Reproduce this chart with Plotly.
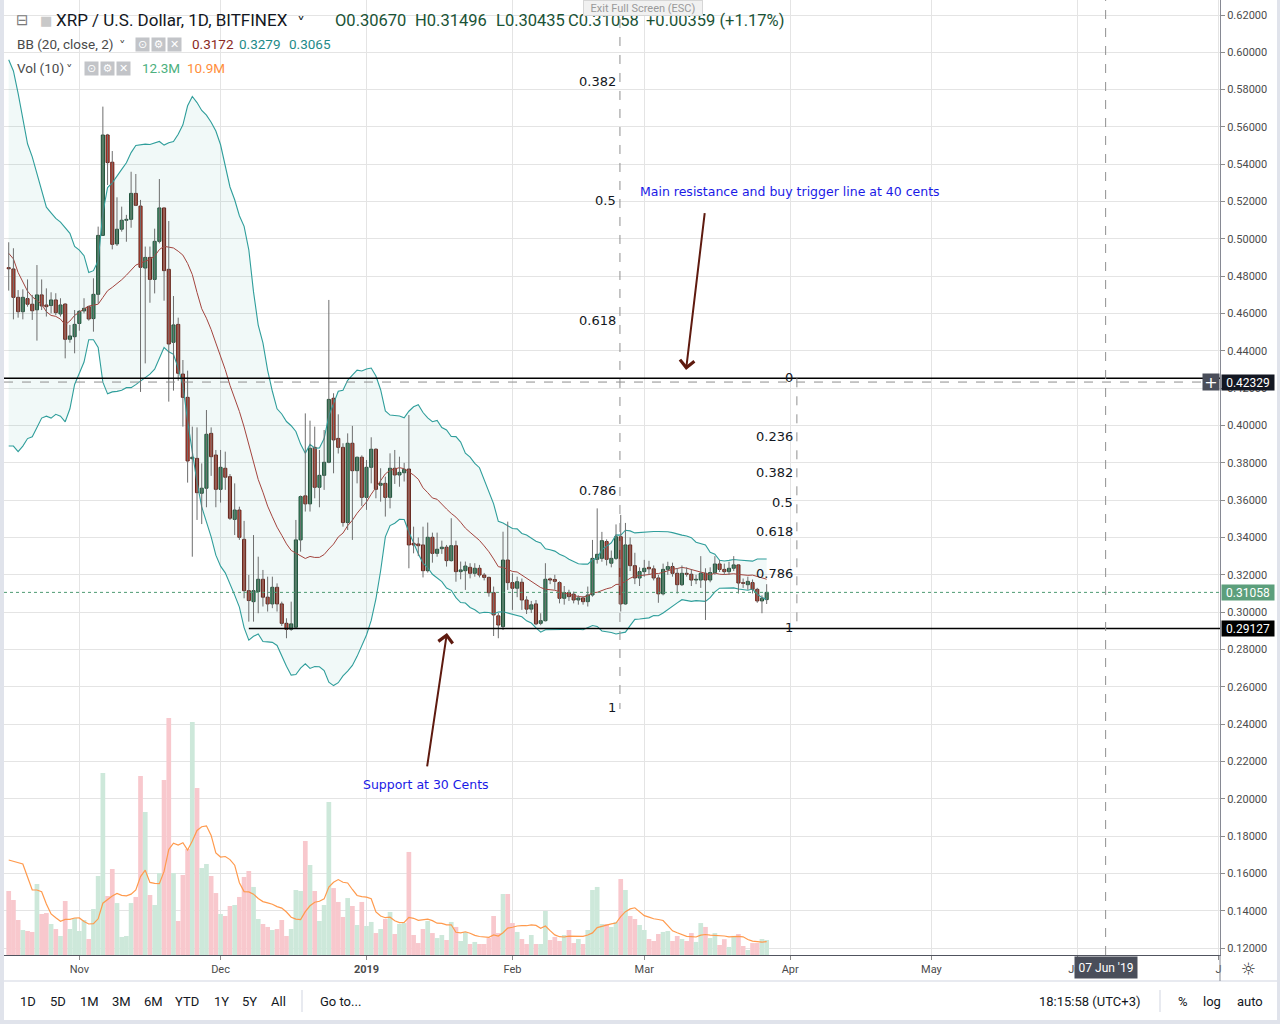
import numpy as np
import pandas as pd
import plotly.graph_objects as go

# ---------------- data ----------------
start_date = "2018-10-17"

opens = [
    0.4846, 0.4839, 0.4687, 0.4610, 0.4680, 0.4650, 0.4620, 0.4700, 0.4646, 0.4643,
    0.4673, 0.4598, 0.4651, 0.4462, 0.4476, 0.4547, 0.4614, 0.4637, 0.4573, 0.4703,
    0.5019, 0.5557, 0.5411, 0.4973, 0.5052, 0.5100, 0.5105, 0.5244, 0.5176, 0.4844,
    0.4901, 0.4783, 0.4987, 0.5166, 0.4837, 0.4446, 0.4542, 0.4276, 0.4151, 0.3822,
    0.3824, 0.3637, 0.3664, 0.3958, 0.3842, 0.3658, 0.3771, 0.3726, 0.3497, 0.3547,
    0.3390, 0.3115, 0.3056, 0.3110, 0.3176, 0.3080, 0.3044, 0.3133, 0.3044, 0.2940,
    0.2908, 0.2919, 0.3387, 0.3623, 0.3580, 0.3883, 0.3669, 0.3733, 0.3803, 0.4146,
    0.3931, 0.3883, 0.3480, 0.3905, 0.3758, 0.3830, 0.3615, 0.3776, 0.3873, 0.3680,
    0.3690, 0.3615, 0.3771, 0.3735, 0.3747, 0.3767, 0.3369, 0.3365, 0.3360, 0.3222,
    0.3401, 0.3315, 0.3340, 0.3348, 0.3276, 0.3356, 0.3217, 0.3222, 0.3240, 0.3208,
    0.3235, 0.3199, 0.3186, 0.3104, 0.2980, 0.2922, 0.3279, 0.3158, 0.3128, 0.3160,
    0.3065, 0.3016, 0.3044, 0.2940, 0.2954, 0.3178, 0.3175, 0.3158, 0.3074, 0.3105,
    0.3096, 0.3065, 0.3076, 0.3056, 0.3092, 0.3283, 0.3288, 0.3378, 0.3262, 0.3288,
    0.3404, 0.3044, 0.3360, 0.3249, 0.3183, 0.3217, 0.3240, 0.3232, 0.3183, 0.3098,
    0.3229, 0.3244, 0.3208, 0.3147, 0.3208, 0.3203, 0.3172, 0.3172, 0.3208, 0.3172,
    0.3212, 0.3258, 0.3229, 0.3217, 0.3235, 0.3253, 0.3158, 0.3147, 0.3158, 0.3122,
    0.3060, 0.3067,
]

highs = [
    0.4982, 0.4950, 0.4726, 0.4730, 0.4783, 0.4700, 0.4860, 0.4783, 0.4735, 0.4714,
    0.4709, 0.4682, 0.4655, 0.4539, 0.4619, 0.4619, 0.4682, 0.4641, 0.4789, 0.5066,
    0.5709, 0.5563, 0.5471, 0.5223, 0.5173, 0.5129, 0.5360, 0.5348, 0.5209, 0.4959,
    0.4959, 0.5055, 0.5321, 0.5166, 0.5096, 0.4694, 0.4578, 0.4351, 0.4294, 0.3994,
    0.3990, 0.3797, 0.4083, 0.3990, 0.3869, 0.3869, 0.3860, 0.3740, 0.3690, 0.3565,
    0.3489, 0.3199, 0.3413, 0.3297, 0.3226, 0.3190, 0.3190, 0.3154, 0.3056, 0.2967,
    0.3056, 0.3494, 0.3625, 0.4065, 0.4026, 0.3994, 0.3869, 0.3976, 0.4673, 0.4173,
    0.4060, 0.3905, 0.3958, 0.3998, 0.3833, 0.3840, 0.3815, 0.3937, 0.3878, 0.3771,
    0.3726, 0.3851, 0.3869, 0.3833, 0.3800, 0.4056, 0.3458, 0.3400, 0.3458, 0.3480,
    0.3426, 0.3426, 0.3383, 0.3360, 0.3503, 0.3383, 0.3271, 0.3271, 0.3262, 0.3262,
    0.3253, 0.3210, 0.3190, 0.3137, 0.2995, 0.3431, 0.3485, 0.3208, 0.3190, 0.3180,
    0.3085, 0.3060, 0.3065, 0.2994, 0.3262, 0.3185, 0.3200, 0.3165, 0.3140, 0.3120,
    0.3110, 0.3090, 0.3085, 0.3137, 0.3387, 0.3556, 0.3430, 0.3390, 0.3330, 0.3470,
    0.3521, 0.3478, 0.3400, 0.3318, 0.3240, 0.3280, 0.3275, 0.3250, 0.3200, 0.3260,
    0.3270, 0.3265, 0.3235, 0.3250, 0.3240, 0.3230, 0.3200, 0.3300, 0.3235, 0.3240,
    0.3300, 0.3280, 0.3260, 0.3270, 0.3300, 0.3255, 0.3180, 0.3190, 0.3175, 0.3130,
    0.3090, 0.31496,
]

lows = [
    0.4723, 0.4569, 0.4578, 0.4569, 0.4637, 0.4566, 0.4455, 0.4619, 0.4584, 0.4601,
    0.4592, 0.4584, 0.4360, 0.4444, 0.4387, 0.4508, 0.4601, 0.4562, 0.4503, 0.4655,
    0.5019, 0.5289, 0.4944, 0.4962, 0.5039, 0.4985, 0.5060, 0.5176, 0.4180, 0.4333,
    0.4658, 0.4708, 0.4976, 0.4669, 0.4128, 0.4187, 0.4240, 0.3994, 0.3694, 0.3297,
    0.3494, 0.3472, 0.3562, 0.3730, 0.3562, 0.3587, 0.3655, 0.3494, 0.3413, 0.3387,
    0.3074, 0.2949, 0.2949, 0.2994, 0.3030, 0.3003, 0.3021, 0.3003, 0.2926, 0.2860,
    0.2900, 0.2913, 0.3324, 0.3539, 0.3539, 0.3610, 0.3562, 0.3655, 0.3798, 0.3744,
    0.3850, 0.3458, 0.3440, 0.3387, 0.3690, 0.3569, 0.3548, 0.3690, 0.3610, 0.3592,
    0.3512, 0.3556, 0.3687, 0.3672, 0.3700, 0.3235, 0.3315, 0.3300, 0.3186, 0.3212,
    0.3265, 0.3297, 0.3312, 0.3244, 0.3271, 0.3163, 0.3176, 0.3119, 0.3181, 0.3190,
    0.3186, 0.3170, 0.3083, 0.2872, 0.2860, 0.2904, 0.3119, 0.3012, 0.3080, 0.3012,
    0.2990, 0.2995, 0.2930, 0.2930, 0.2950, 0.3150, 0.3120, 0.3047, 0.3040, 0.3060,
    0.3047, 0.3040, 0.3040, 0.3030, 0.3083, 0.3260, 0.3270, 0.3250, 0.3240, 0.3280,
    0.3003, 0.3040, 0.3220, 0.3150, 0.3140, 0.3190, 0.3200, 0.3170, 0.3050, 0.3090,
    0.3200, 0.3190, 0.3100, 0.3140, 0.3190, 0.3140, 0.3150, 0.3130, 0.2958, 0.3160,
    0.3200, 0.3215, 0.3200, 0.3200, 0.3220, 0.3100, 0.3130, 0.3120, 0.3100, 0.3050,
    0.2994, 0.30435,
]

closes = [
    0.4840, 0.4687, 0.4610, 0.4687, 0.4650, 0.4615, 0.4700, 0.4641, 0.4637, 0.4673,
    0.4605, 0.4646, 0.4462, 0.4480, 0.4542, 0.4612, 0.4628, 0.4571, 0.4703, 0.5019,
    0.5557, 0.5409, 0.4971, 0.5052, 0.5100, 0.5105, 0.5244, 0.5180, 0.4848, 0.4901,
    0.4783, 0.4987, 0.5166, 0.4830, 0.4437, 0.4539, 0.4280, 0.4151, 0.3810, 0.3830,
    0.3640, 0.3664, 0.3953, 0.3833, 0.3658, 0.3776, 0.3723, 0.3503, 0.3547, 0.3401,
    0.3115, 0.3062, 0.3115, 0.3176, 0.3080, 0.3044, 0.3133, 0.3044, 0.2940, 0.2908,
    0.2937, 0.3387, 0.3619, 0.3580, 0.3878, 0.3669, 0.3733, 0.3803, 0.4140, 0.3923,
    0.3883, 0.3480, 0.3905, 0.3758, 0.3830, 0.3615, 0.3776, 0.3873, 0.3658, 0.3690,
    0.3615, 0.3771, 0.3735, 0.3749, 0.3765, 0.3360, 0.3360, 0.3356, 0.3222, 0.3401,
    0.3315, 0.3337, 0.3348, 0.3276, 0.3356, 0.3217, 0.3226, 0.3247, 0.3208, 0.3235,
    0.3199, 0.3186, 0.3104, 0.2985, 0.2931, 0.3279, 0.3158, 0.3128, 0.3163, 0.3065,
    0.3016, 0.3039, 0.2937, 0.2954, 0.3176, 0.3172, 0.3165, 0.3074, 0.3105, 0.3083,
    0.3065, 0.3076, 0.3056, 0.3092, 0.3288, 0.3310, 0.3383, 0.3283, 0.3288, 0.3404,
    0.3044, 0.3360, 0.3249, 0.3183, 0.3217, 0.3235, 0.3232, 0.3183, 0.3098, 0.3229,
    0.3244, 0.3208, 0.3147, 0.3208, 0.3203, 0.3172, 0.3176, 0.3208, 0.3172, 0.3212,
    0.3258, 0.3229, 0.3217, 0.3235, 0.3253, 0.3156, 0.3154, 0.3165, 0.3122, 0.3060,
    0.3074, 0.31058,
]

# volume in millions
volumes = [
    52.5, 45.1, 28.7, 20.5, 19.7, 18.9, 58.2, 33.6, 34.4, 25.4,
    21.3, 15.6, 44.3, 21.3, 30.3, 19.7, 28.7, 13.1, 37.7, 64.8,
    149.2, 48.4, 70.5, 42.6, 14.8, 15.6, 42.6, 47.6, 146.8, 117.3,
    49.2, 41.0, 67.2, 143.5, 194.3, 67.2, 27.9, 65.6, 86.9, 191.1,
    136.9, 71.3, 74.6, 64.8, 50.8, 33.6, 32.0, 40.2, 41.0, 47.6,
    64.0, 68.9, 55.8, 29.5, 25.4, 23.0, 20.5, 21.3, 28.7, 15.6,
    21.3, 53.3, 52.5, 93.5, 73.8, 52.5, 27.9, 41.0, 125.5, 54.9,
    43.5, 31.2, 46.7, 40.2, 24.6, 43.5, 23.8, 27.1, 18.0, 21.3,
    29.5, 35.3, 17.2, 25.4, 26.2, 84.5, 16.4, 9.8, 21.3, 27.9,
    18.0, 13.9, 16.4, 12.3, 27.1, 23.0, 11.5, 18.9, 9.0, 10.7,
    9.0, 9.0, 13.9, 32.0, 18.0, 50.0, 50.0, 26.2, 18.9, 13.1,
    9.0, 16.4, 9.0, 9.0, 36.1, 12.3, 14.8, 11.5, 16.4, 20.5,
    9.8, 13.1, 9.0, 20.5, 53.3, 55.8, 25.4, 25.4, 23.0, 27.1,
    62.3, 53.3, 32.0, 29.5, 24.6, 20.5, 13.1, 11.5, 17.2, 18.9,
    19.7, 11.5, 15.6, 13.1, 11.5, 18.0, 10.7, 26.2, 23.0, 13.9,
    18.0, 8.2, 13.0, 6.6, 15.7, 17.2, 7.4, 4.1, 9.8, 9.8,
    13.1, 12.3,
]

# indicator values visible before 20 / 10 bars of history exist
bb_basis_early = [0.4923, 0.4893, 0.4820, 0.4770, 0.4720, 0.4690, 0.4670, 0.4650, 0.4610, 0.4590,
                  0.4585, 0.4570, 0.4540, 0.4560, 0.4590, 0.4610, 0.4625, 0.4640, 0.4645]
bb_upper_early = [0.5960, 0.5900, 0.5780, 0.5650, 0.5510, 0.5440, 0.5350, 0.5260, 0.5170, 0.5140,
                  0.5110, 0.5090, 0.5060, 0.5030, 0.4960, 0.4940, 0.4910, 0.4820, 0.4830]
bb_lower_early = [0.3890, 0.3890, 0.3860, 0.3890, 0.3930, 0.3940, 0.3990, 0.4040, 0.4050, 0.4040,
                  0.4060, 0.4050, 0.4020, 0.4090, 0.4220, 0.4280, 0.4340, 0.4460, 0.4460]
vol_ma_early = [77.9, 76.8, 75.4, 74.6, 64.0, 53.3, 53.3, 51.9, 41.8]

bb_length, bb_mult, vol_ma_length = 20, 2, 10

# values printed in the legend of the reference
legend_change = "+0.00359 (+1.17%)"
legend_bb = ["0.3172", "0.3279", "0.3065"]
legend_vol = ["12.3M", "10.9M"]

fib_levels = [0, 0.236, 0.382, 0.5, 0.618, 0.786, 1]
fib1_date, fib1_top, fib1_bottom = "2019-02-23 20:00", 0.7915, 0.2481
fib2_date, fib2_top, fib2_bottom = "2019-04-02 10:00", 0.4253, 0.2913
resistance_price = 0.4253
support_price = 0.29127
support_start = "2018-12-07"
crosshair_price = 0.42329
crosshair_date = "2019-06-07"

month_ticks = ["2018-11-01", "2018-12-01", "2019-01-01", "2019-02-01", "2019-03-01",
               "2019-04-01", "2019-05-01", "2019-06-01", "2019-07-01"]
month_labels = ["Nov", "Dec", "<b>2019</b>", "Feb", "Mar", "Apr", "May", "Jun", "J"]

# ---------------- derived series ----------------
dates = pd.date_range(start_date, periods=len(closes), freq="D")
o = np.array(opens)
h = np.array(highs)
l = np.array(lows)
c = np.array(closes)
up = c >= o

cs = pd.Series(closes)
basis = cs.rolling(bb_length).mean()
sd = cs.rolling(bb_length).std(ddof=0)
upper = basis + bb_mult * sd
lower = basis - bb_mult * sd
n0 = len(bb_basis_early)
basis.iloc[:n0] = bb_basis_early
upper.iloc[:n0] = bb_upper_early
lower.iloc[:n0] = bb_lower_early

vs = pd.Series(volumes)
vol_ma = vs.rolling(vol_ma_length).mean()
vol_ma.iloc[:len(vol_ma_early)] = vol_ma_early

# ---------------- geometry helpers (layout only) ----------------
W, H = 1280, 1024
ML, MR, MT, MB = 4, 60, 0, 69
PW, PH = W - ML - MR, H - MT - MB


def px(x):
    return (x - ML) / PW


def py(y):
    return 1 - (y - MT) / PH


DAY = 86400000
GREEN_FILL, GREEN_LINE = "#3F8F62", "#1D4A33"
RED_FILL, RED_LINE = "#CF4634", "#641A11"
TEAL = "#2F9E9B"

fig = go.Figure()

# volume (base axis y, drawn first)
vol_colors = ["#CDE8DA" if u else "#F8C8CD" for u in up]
fig.add_trace(go.Bar(x=dates, y=volumes, marker=dict(color=vol_colors, line=dict(width=0)),
                     width=DAY, yaxis="y", xaxis="x", hoverinfo="skip"))
fig.add_trace(go.Scatter(x=dates, y=vol_ma, mode="lines", line=dict(color="#FF9A4D", width=1.2),
                         yaxis="y", hoverinfo="skip"))

# Bollinger bands
fig.add_trace(go.Scatter(x=dates, y=lower, mode="lines", line=dict(color=TEAL, width=1.1),
                         yaxis="y2", hoverinfo="skip"))
fig.add_trace(go.Scatter(x=dates, y=upper, mode="lines", line=dict(color=TEAL, width=1.1),
                         fill="tonexty", fillcolor="rgba(38,160,154,0.065)",
                         yaxis="y2", hoverinfo="skip"))
fig.add_trace(go.Scatter(x=dates, y=basis, mode="lines", line=dict(color="#A3443E", width=1),
                         yaxis="y2", hoverinfo="skip"))

# wicks
wx, wy = [], []
for d, hi, lo in zip(dates, h, l):
    wx += [d, d, None]
    wy += [lo, hi, None]
fig.add_trace(go.Scatter(x=wx, y=wy, mode="lines", line=dict(color="#6E6E6E", width=1),
                         yaxis="y2", hoverinfo="skip"))

# bodies
body = np.maximum(np.abs(c - o), 0.0003)
fig.add_trace(go.Bar(x=dates[up], base=o[up], y=body[up], width=0.66 * DAY,
                     marker=dict(color=GREEN_FILL, line=dict(color=GREEN_LINE, width=1)),
                     yaxis="y2", hoverinfo="skip"))
fig.add_trace(go.Bar(x=dates[~up], base=c[~up], y=body[~up], width=0.66 * DAY,
                     marker=dict(color=RED_FILL, line=dict(color=RED_LINE, width=1)),
                     yaxis="y2", hoverinfo="skip"))

# ---------------- shapes ----------------
shapes = []
x_end = "2019-07-01 07:00"
shapes.append(dict(type="line", xref="paper", x0=0, x1=1, yref="y2", y0=resistance_price,
                   y1=resistance_price, line=dict(color="#000000", width=1.5)))
shapes.append(dict(type="line", xref="x", x0=support_start, x1=x_end, yref="y2", y0=support_price,
                   y1=support_price, line=dict(color="#000000", width=1.5)))
shapes.append(dict(type="line", xref="paper", x0=0, x1=1, yref="y2", y0=crosshair_price,
                   y1=crosshair_price, line=dict(color="#8F8F8F", width=1, dash="dash")))
shapes.append(dict(type="line", xref="x", x0=crosshair_date, x1=crosshair_date, yref="paper",
                   y0=0, y1=1, line=dict(color="#8F8F8F", width=1, dash="dash")))
shapes.append(dict(type="line", xref="paper", x0=0, x1=1, yref="y2", y0=closes[-1], y1=closes[-1],
                   line=dict(color="#4E9A72", width=1, dash="dot")))
shapes.append(dict(type="line", xref="x", x0=fib1_date, x1=fib1_date, yref="y2", y0=fib1_top,
                   y1=fib1_bottom, line=dict(color="#8F8F8F", width=1, dash="dash")))
shapes.append(dict(type="line", xref="x", x0=fib2_date, x1=fib2_date, yref="y2", y0=fib2_top,
                   y1=fib2_bottom, line=dict(color="#8F8F8F", width=1, dash="dash")))

FRAME = "#E0E3EB"
shapes.append(dict(type="rect", xref="paper", yref="paper", x0=px(0), x1=px(4), y0=py(0), y1=py(1024),
                   fillcolor=FRAME, line=dict(width=0), layer="above"))
shapes.append(dict(type="rect", xref="paper", yref="paper", x0=px(1277), x1=px(1280), y0=py(0), y1=py(1024),
                   fillcolor=FRAME, line=dict(width=0), layer="above"))
shapes.append(dict(type="rect", xref="paper", yref="paper", x0=px(0), x1=px(1280), y0=py(1020), y1=py(1024),
                   fillcolor=FRAME, line=dict(width=0), layer="above"))
shapes.append(dict(type="line", xref="paper", yref="paper", x0=px(4), x1=px(1277), y0=py(981), y1=py(981),
                   line=dict(color=FRAME, width=1.5)))
shapes.append(dict(type="line", xref="paper", yref="paper", x0=px(1220), x1=px(1220), y0=py(955), y1=py(981),
                   line=dict(color="#868993", width=1)))
for sx in (302, 1160):
    shapes.append(dict(type="line", xref="paper", yref="paper", x0=px(sx), x1=px(sx), y0=py(990), y1=py(1012),
                       line=dict(color=FRAME, width=1.5)))

# ---------------- annotations ----------------
ann = []


def txt(text, x, y, size=12, color="#131722", family="Roboto", xanchor="left", **kw):
    d = dict(text=text, x=px(x), y=py(y), xref="paper", yref="paper", xanchor=xanchor, yanchor="middle",
             showarrow=False, font=dict(family=family, size=size, color=color))
    d.update(kw)
    return d


def fib_labels(date, top, bottom):
    ymin, ymax = 0.11625, 0.62804
    for lvl in fib_levels:
        price = top - lvl * (top - bottom)
        if ymin + 0.005 < price < ymax - 0.005:
            ann.append(dict(text=f"{lvl:g}", x=date, y=price, xref="x", yref="y2", xanchor="right",
                            yanchor="middle", xshift=-2, yshift=1, showarrow=False,
                            font=dict(family="DejaVu Sans", size=13, color="#131722")))


fib_labels(fib1_date, fib1_top, fib1_bottom)
fib_labels(fib2_date, fib2_top, fib2_bottom)

ann.append(dict(text="Main resistance and buy trigger line at 40 cents", x="2019-04-01", y=0.5253,
                xref="x", yref="y2", xanchor="center", yanchor="middle", showarrow=False,
                font=dict(family="DejaVu Sans", size=12.5, color="#1A1AE6")))
ann.append(dict(text="", x="2019-03-09 21:00", y=0.4298, ax="2019-03-13 21:00", ay=0.5146,
                xref="x", yref="y2", axref="x", ayref="y2", showarrow=True, arrowhead=4,
                arrowsize=1.4, arrowwidth=2, arrowcolor="#5E1A0F", standoff=0))
ann.append(dict(text="Support at 30 Cents", x="2019-01-13 15:00", y=0.2074,
                xref="x", yref="y2", xanchor="center", yanchor="middle", showarrow=False,
                font=dict(family="DejaVu Sans", size=12.5, color="#1A1AE6")))
ann.append(dict(text="", x="2019-01-18 02:00", y=0.2888, ax="2019-01-13 20:00", ay=0.2165,
                xref="x", yref="y2", axref="x", ayref="y2", showarrow=True, arrowhead=4,
                arrowsize=1.4, arrowwidth=2, arrowcolor="#5E1A0F", standoff=0))


def price_tag(price, text, bg):
    ann.append(dict(text=text, x=px(1221), y=price, xref="paper", yref="y2", xanchor="left",
                    yanchor="middle", showarrow=False, bgcolor=bg, width=52, height=15, borderpad=0,
                    font=dict(family="Roboto", size=12, color="#FFFFFF")))


price_tag(crosshair_price, f"{crosshair_price:.5f}", "#131722")
price_tag(closes[-1], f"{closes[-1]:.5f}", "#5C9F7C")
price_tag(support_price, f"{support_price:.5f}", "#000000")
ann.append(dict(text="+", x=px(1211), y=crosshair_price, xref="paper", yref="y2", xanchor="center",
                yanchor="middle", showarrow=False, bgcolor="#4A4E5A", width=16, height=16, borderpad=0,
                font=dict(family="DejaVu Sans", size=16, color="#FFFFFF")))
ann.append(dict(text="07 Jun '19", x=crosshair_date, y=py(968), xref="x", yref="paper", xanchor="center",
                yanchor="middle", showarrow=False, bgcolor="#4A4E5A", width=62, height=21, borderpad=0,
                font=dict(family="Roboto", size=12, color="#FFFFFF")))

# header legend
ann.append(txt("⊟", 14, 20, size=15, color="#7B7B7B", family="DejaVu Sans"))
ann.append(txt("■", 38, 20, size=13, color="#C9C9C9", family="DejaVu Sans"))
ann.append(txt("XRP / U.S. Dollar, 1D, BITFINEX", 54, 20, size=17, color="#131722"))
ann.append(txt("˅", 295, 23, size=16, color="#131722", family="DejaVu Sans"))
ohlc_color = "#1A5336"
ann.append(txt(f"O{opens[-1]:.5f}", 333, 20, size=16.5, color=ohlc_color))
ann.append(txt(f"H{highs[-1]:.5f}", 413, 20, size=16.5, color=ohlc_color))
ann.append(txt(f"L{lows[-1]:.5f}", 494, 20, size=16.5, color=ohlc_color))
ann.append(txt(f"C{closes[-1]:.5f}", 566, 20, size=16.5, color=ohlc_color))
ann.append(txt(legend_change, 644, 20, size=16.5, color=ohlc_color))

ann.append(txt("BB (20, close, 2)", 15, 44, size=13.5, color="#4A4A4A"))
ann.append(txt("˅", 117, 46, size=13, color="#4A4A4A", family="DejaVu Sans"))
ann.append(txt(legend_bb[0], 190, 44, size=13.5, color="#8B2A24"))
ann.append(txt(legend_bb[1], 237, 44, size=13.5, color="#1E8A88"))
ann.append(txt(legend_bb[2], 287, 44, size=13.5, color="#1E8A88"))

ann.append(txt("Vol (10)", 15, 68, size=13.5, color="#4A4A4A"))
ann.append(txt("˅", 64, 70, size=13, color="#4A4A4A", family="DejaVu Sans"))
ann.append(txt(legend_vol[0], 140, 68, size=13.5, color="#4CB07E"))
ann.append(txt(legend_vol[1], 185, 68, size=13.5, color="#FF8E3C"))

icons = ["⊙", "⚙", "✕"]
for row_y, x0 in [(44, 135), (68, 84)]:
    for k, ic in enumerate(icons):
        ann.append(txt(ic, x0 + 16 * k, row_y, size=11, color="#FFFFFF", family="DejaVu Sans",
                       bgcolor="#C2C4C8", width=13, height=13, borderpad=0, xanchor="left"))

ann.append(txt("Exit Full Screen (ESC)", 643, 8, size=11, color="#9A9A9A", xanchor="center",
               bgcolor="#F1F1F1", bordercolor="#D6D6D6", borderwidth=1, width=118, height=14, borderpad=0))

for lab, cx in [("1D", 28), ("5D", 58), ("1M", 89), ("3M", 121), ("6M", 153), ("YTD", 187),
                ("1Y", 221), ("5Y", 249), ("All", 278)]:
    ann.append(txt(lab, cx, 1001, size=13, color="#131722", xanchor="center"))
ann.append(txt("Go to...", 318, 1001, size=13, color="#131722"))
ann.append(txt("18:15:58 (UTC+3)", 1090, 1001, size=13, color="#131722", xanchor="center"))
ann.append(txt("%", 1183, 1001, size=13, color="#131722", xanchor="center"))
ann.append(txt("log", 1212, 1001, size=13, color="#131722", xanchor="center"))
ann.append(txt("auto", 1250, 1001, size=13, color="#131722", xanchor="center"))
ann.append(txt("☼", 1248, 969, size=17, color="#333333", family="DejaVu Sans", xanchor="center"))

fig.update_layout(
    width=W, height=H,
    margin=dict(l=ML, r=MR, t=MT, b=MB),
    paper_bgcolor="#FFFFFF", plot_bgcolor="#FFFFFF",
    showlegend=False, hovermode=False, barmode="overlay",
    xaxis=dict(type="date", range=["2018-10-16 00:00", x_end], tickvals=month_ticks, ticktext=month_labels,
               showgrid=True, gridcolor="#E4E4E4", gridwidth=1, ticks="outside", ticklen=4,
               tickcolor="#8C8C8C", showline=True, linecolor="#50535E", linewidth=1, zeroline=False,
               tickfont=dict(family="Roboto", size=11, color="#4A4A4A"), fixedrange=True),
    yaxis=dict(range=[0, 783.1], visible=False, fixedrange=True),
    yaxis2=dict(overlaying="y", side="right", range=[0.11625, 0.62804], tick0=0, dtick=0.02,
                tickformat=".5f", showgrid=True, gridcolor="#E4E4E4", gridwidth=1, ticks="outside",
                ticklen=4, tickcolor="#8C8C8C", showline=True, linecolor="#868993", linewidth=1,
                zeroline=False, tickfont=dict(family="Roboto", size=11, color="#4C4C4C"), fixedrange=True),
    shapes=shapes,
    annotations=ann,
)

fig.write_html("out.html", config={"displayModeBar": False},
               post_script="document.body.style.margin='0';document.body.style.overflow='hidden';")
